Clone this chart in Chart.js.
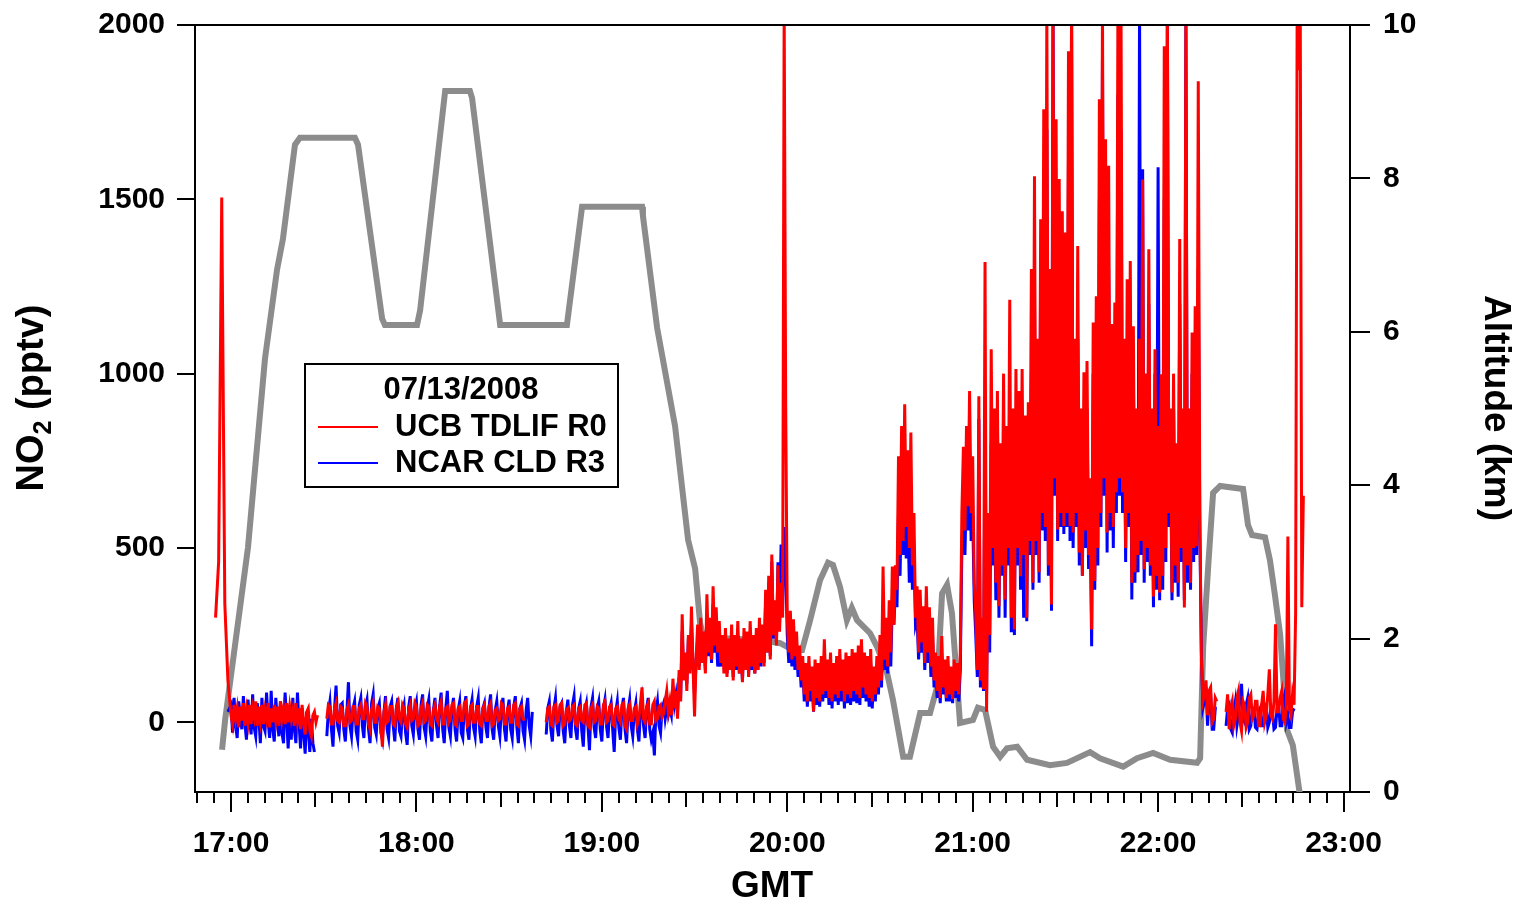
<!DOCTYPE html>
<html><head><meta charset="utf-8">
<script src="https://cdn.jsdelivr.net/npm/chart.js@4.4.1/dist/chart.umd.min.js"></script>
<style>html,body{margin:0;padding:0;background:#fff;}canvas{display:block;}</style>
</head><body>
<canvas id="c" width="1517" height="904"></canvas>
<script>
const FONT = '"Liberation Sans", Arial, Helvetica, sans-serif';

// NO2 (pptv). Segment A: 1-min samples from 16:55 (minute-of-day 1015) to 16:59
const SEG_A_START = 1015, SEG_A_STEP = 1;
// Segment B: 30-s samples from 17:00 to 22:48:30
const SEG_B_START = 1020, SEG_B_STEP = 0.5;

const ucbA = [300, 460, 1505, 340, 120];
const ucbB = [
 20, -5, 50, 10, 40, -15, 45, 5, 55, -10, 35, 0, 50, -5, 40, 15, 60, -10, 45, 5,
 50, -5, 35, 10, 55, -15, 40, 0, 50, 5, 45, -10, 60, 10, 40, -5, 55, 0, 45, 10,
 35, -10, 55, 5, 40, -20, 50, 0, -35, 30, 40, -25, -40, 20, 30, 0, 20, null, null, null,
 null, null, 10, 50, 45, -5, -5, 40, 55, 5, 0, 45, 40, -10, -10, 35, 50, 0, 5, 45,
 45, -5, -5, 40, 50, 10, 10, 55, 45, -5, -20, 35, 55, 0, 0, 45, 40, -10, -70, 30,
 50, 0, 5, 45, 45, -5, -10, 40, 55, 10, 0, 50, 40, -5, -15, 35, 50, 5, 10, 55,
 45, -10, -5, 40, 55, 0, 5, 50, 45, -5, -10, 35, 50, 10, 0, 45, 60, -5, -5, 40,
 45, 0, 10, 50, 55, -5, -10, 40, 45, 5, 5, 55, 60, -10, -5, 45, 50, 0, 0, 45,
 45, -5, -10, 40, 50, 5, 5, 45, 55, -10, -5, 35, 40, 5, 10, 55, 50, -5, -5, 40,
 45, 0, 0, 50, 55, -5, -10, 40, 45, 10, 5, null, null, null, null, null, null, null, null, null,
 null, null, null, null, 0, 40, 45, -5, -10, 45, 50, 0, 5, 50, 55, -10, -5, 35, 40, 5,
 10, 45, 50, -5, -10, 40, 45, 5, 0, 50, 55, -10, -15, 40, 50, 0, 5, 45, 40, -5,
 -5, 50, 60, 0, 5, 45, 50, -5, -10, 40, 45, 10, 0, 50, 55, -10, -20, 40, 50, 5,
 5, 40, 45, -5, 10, 55, 100, 10, 0, 45, 55, -5, -5, 50, 60, 5, 10, 45, 50, 15,
 25, 60, 90, 30,
 60, 20, 125, 40, 90, 10, 150, 60, 310, 120, 200, 90, 250, 140, 332, 160, 17, 180, 280, 150,
 300, 170, 260, 140, 367, 200, 300, 180, 390, 220, 330, 200, 290, 170, 250, 140, 270, 130, 240, 150,
 280, 120, 250, 160, 290, 140, 240, 115, 270, 150, 260, 130, 290, 160, 250, 140, 270, 150, 300, 170,
 280, 160, 380, 200, 420, 180, 481, 250, 350, 220, 450, 260, 400, 300, 2050, 900, 300, 200, 320, 180,
 295, 190, 260, 150, 220, 120, 190, 80, 170, 60, 190, 90, 160, 31, 180, 70, 170, 60, 190, 80,
 238, 90, 180, 70, 200, 60, 170, 80, 190, 70, 210, 90, 180, 60, 200, 80, 190, 70, 210, 90,
 200, 80, 220, 70, 238, 100, 200, 80, 190, 70, 210, 60, 160, 80, 190, 100, 250, 120, 447, 180,
 300, 160, 350, 200,
 447, 280, 450, 380, 763, 480, 850, 520, 912, 560, 780, 500, 831, 450, 600, 300, 390, 200, 380, 230,
 333, 170, 390, 200, 330, 160, 300, 120, 200, 90, 190, 70, 247, 100, 180, 70, 190, 80, 160, 66,
 180, 90, 170, 80, 200, 600, 790, 550, 850, 620, 950, 600, 763, 400, 315, 150, 935, 120, 300, 95,
 1320, 30, 600, 250, 1070, 500, 900, 400, 950, 333, 800, 450, 1000, 352, 850, 500, 1212, 300, 900, 266,
 1013, 500, 950, 419, 1013, 480, 880, 300, 918, 520, 1300, 400, 1566, 520, 1100, 430, 1443, 600, 1758, 560,
 2050, 450, 1300, 338, 2050, 700, 1730, 553, 1558, 600, 1466, 563, 1405, 600, 1925, 563, 2050, 544, 1100, 600,
 1366, 487, 900, 420, 1004, 550, 1036, 480, 700, 266, 1147, 405, 1222, 500, 1787, 600, 2050, 700, 1672, 544,
 1596, 600, 1142, 560, 1204, 660, 2050, 700, 2050, 660, 1100, 500, 1271, 600, 1323, 400, 1136, 430, 900, 480,
 1100, 520, 1557, 439, 1000, 500, 1357, 450, 900, 361, 1070, 420, 850, 372, 998, 420, 1939, 500, 2050, 600,
 900, 372, 1000, 450, 800, 400, 1386, 500, 900, 329, 2050, 450, 900, 400, 1118, 500, 1193, 505, 1839, 600,
 180, 60, 80, 120, 20, 90, 100, 0, 10, 70, 60, null, null, null, null, null,
 30, 80, -20, 40, 60, -10, 10, 70, 90, 0, -25, 60, 50, -15, 0, 70, 80, 10, 20, 60,
 60, -10, -10, 50, 90, 0, 20, 80, 152, 20, 10, 60, 281, 30, 30, 70, 90, 10, 0, 50,
 533, 40, 20, 80, 50, 309, 2050, 1870, 2050, 330, 650, null, null, null
];

const ncarA = [null, null, null, null, 30];
const ncarB = [
 50, -30, 70, -10, -45, 60, 20, -20, 75, -5, -50, 65, 10, -35, 80, -15, -40, 55, 15, -60,
 70, -10, -25, 85, 5, -45, 90, -20, -55, 70, 0, -40, 60, -30, -60, 85, 10, -75, 40, -50,
 70, -20, -60, 85, 0, -75, 40, -30, -90, 30, -20, -85, 10, -60, -85, null, null, null, null, null,
 null, null, -40, 30, 60, -20, -70, 40, 105, -10, -30, 50, 55, -20, -55, 30, 115, -10, -40, 40,
 60, -25, -50, 50, 70, -10, -45, 45, 65, -20, -60, 55, 80, -15, -35, 40, 55, -30, -50, 30,
 75, -20, -45, 45, 60, -10, -55, 40, 70, -25, -40, 30, 50, -30, -65, 45, 75, -10, -35, 40,
 60, -20, -50, 50, 80, -15, -40, 40, 65, -25, -55, 35, 70, -10, -45, 45, 85, -20, -60, 40,
 90, -15, -40, 40, 70, -20, -55, 35, 60, -30, -45, 45, 75, -20, -50, 40, 65, -15, -40, 45,
 70, -25, -60, 40, 55, -15, -45, 45, 80, -20, -50, 35, 60, -10, -40, 40, 70, -20, -55, 35,
 65, -20, -45, 45, 75, -15, -60, 40, 55, -25, -50, 35, 70, -10, -40, 30, null, null, null, null,
 null, null, null, null, -35, 40, 60, -20, -55, 40, 70, -10, -40, 45, 55, -25, -60, 30, 65, -10,
 -45, 50, 75, -20, -50, 40, 60, -25, -70, 35, 55, -10, -80, 45, 70, -15, -45, 40, 60, -20,
 -55, 40, 65, -10, -45, 35, 55, -20, -85, 30, 60, -15, -50, 40, 70, -20, -60, 35, 65, -10,
 -40, 30, 55, -20, -55, 35, 65, -10, -45, 40, 70, -20, -50, -30, -95, 30, 60, -10, -30, 40,
 55, 10, 40, 20,
 40, 20, 100, 50, 80, 30, 130, 70, 260, 130, 180, 110, 240, 150, 280, 170, 80, 170, 240, 160,
 250, 170, 230, 150, 300, 190, 260, 170, 340, 200, 260, 160, 200, 160, 220, 160, 240, 140, 220, 150,
 240, 130, 230, 150, 250, 140, 220, 120, 240, 150, 230, 140, 250, 150, 230, 140, 240, 150, 270, 160,
 260, 170, 350, 200, 400, 190, 460, 240, 340, 230, 459, 280, 510, 320, 560, 450, 250, 170, 260, 160,
 250, 150, 220, 130, 180, 100, 160, 60, 150, 45, 160, 60, 140, 30, 150, 50, 140, 45, 160, 60,
 190, 70, 150, 50, 170, 40, 150, 60, 160, 50, 180, 60, 150, 40, 170, 55, 160, 50, 180, 60,
 170, 55, 190, 50, 200, 70, 170, 60, 160, 45, 170, 40, 140, 60, 160, 80, 200, 100, 300, 150,
 250, 140, 280, 160,
 350, 280, 380, 330, 600, 420, 660, 480, 700, 470, 600, 400, 660, 380, 480, 280, 300, 180, 300, 200,
 280, 150, 300, 170, 260, 130, 250, 100, 160, 70, 150, 55, 180, 80, 140, 60, 150, 60, 130, 55,
 140, 70, 130, 60, 150, 500, 620, 480, 700, 550, 780, 520, 600, 350, 250, 130, 870, 100, 250, 90,
 900, 80, 600, 200, 800, 450, 700, 350, 870, 300, 700, 420, 800, 300, 700, 450, 900, 258, 750, 250,
 850, 450, 800, 380, 800, 300, 700, 290, 800, 480, 1000, 380, 1200, 480, 900, 400, 1300, 550, 1400, 520,
 1700, 420, 1000, 320, 2050, 650, 1300, 520, 1300, 560, 1200, 540, 1200, 560, 1600, 520, 2050, 500, 900, 560,
 1100, 450, 800, 420, 900, 500, 900, 440, 600, 218, 1000, 380, 1000, 450, 1500, 560, 1900, 650, 1400, 487,
 1300, 550, 1000, 500, 1000, 600, 1800, 650, 1700, 600, 1000, 460, 1100, 560, 1100, 352, 1000, 400, 800, 430,
 2050, 480, 1586, 400, 900, 460, 1200, 420, 800, 330, 1000, 380, 1592, 350, 900, 380, 1500, 460, 2050, 560,
 800, 350, 900, 400, 700, 360, 1200, 460, 800, 350, 2050, 400, 800, 380, 1000, 460, 1000, 480, 1300, 560,
 200, 40, 60, 100, -10, 60, 80, -20, -20, 40, 40, null, null, null, null, null,
 -10, 40, 50, -20, -30, 30, 60, -10, 20, 70, 110, 10, 0, 50, 70, -20, -10, 40, 40, -15,
 -20, 30, 40, -10, -10, 40, 50, -15, 0, 40, 30, -20, -15, 40, 50, -10, -10, 60, 80, 0,
 20, -15, -15, 30, 40, null, null, null, null, null, null, null, null, null
];

// Aircraft altitude (km) at minute-of-day
const altTimeMin = [1017.1, 1018.1, 1025.5, 1031.0, 1034.9, 1036.8, 1040.7, 1042.3, 1060.1, 1061.1,
 1068.9, 1069.8, 1080.2, 1081.2, 1089.3, 1097.3, 1098.0, 1107.1, 1128.7, 1133.6,
 1153.0, 1153.3, 1157.9, 1163.7, 1167.9, 1170.2, 1171.8, 1172.8, 1191.2, 1197.7,
 1201.9, 1204.8, 1207.4, 1210.6, 1213.2, 1214.8, 1217.1, 1219.3, 1220.9, 1222.6,
 1226.8, 1229.1, 1232.3, 1234.2, 1237.5, 1239.7, 1243.0, 1246.2, 1248.5, 1250.1,
 1251.7, 1253.3, 1255.9, 1260.1, 1261.7, 1264.0, 1266.6, 1268.9, 1271.1, 1274.4,
 1277.6, 1285.0, 1290.5, 1298.0, 1301.2, 1308.7, 1313.2, 1318.4, 1323.9, 1332.6,
 1333.6, 1334.6, 1336.2, 1337.8, 1340.1, 1347.5, 1349.1, 1350.4, 1354.6, 1356.2,
 1357.8, 1359.5, 1361.7, 1363.6, 1365.9];
const altKm = [0.55, 0.94, 3.19, 5.65, 6.81, 7.21, 8.44, 8.53, 8.53, 8.44,
 6.17, 6.09, 6.09, 6.28, 9.14, 9.14, 9.05, 6.09, 6.09, 7.63,
 7.63, 7.51, 6.05, 4.77, 3.29, 2.91, 2.20, 2.02, 1.98, 1.94,
 1.85, 1.85, 2.24, 2.76, 2.99, 2.96, 2.67, 2.24, 2.40, 2.24,
 2.07, 1.89, 1.55, 1.20, 0.46, 0.46, 1.03, 1.03, 1.37, 2.59,
 2.70, 2.33, 0.90, 0.94, 1.10, 1.07, 0.59, 0.46, 0.57, 0.59,
 0.42, 0.35, 0.38, 0.52, 0.44, 0.33, 0.44, 0.51, 0.42, 0.38,
 0.44, 1.90, 2.93, 3.90, 3.99, 3.95, 3.48, 3.35, 3.32, 3.02,
 2.57, 2.05, 0.81, 0.61, -0.04];

const hourTicks = [1020, 1080, 1140, 1200, 1260, 1320, 1380];
const no2Ticks = [0, 500, 1000, 1500, 2000];
const altTicks = [0, 2, 4, 6, 8, 10];
const xRange = [1008.35, 1382.1];
const no2Range = [-200, 2000];
const altRange = [0, 10];
const legendTitle = '07/13/2008';
const seriesNames = ['UCB TDLIF R0', 'NCAR CLD R3'];

const seg = (start, step, arr) => arr.map((v, i) => ({x: start + i * step, y: v}));
const series = (a, b) => [...seg(SEG_A_START, SEG_A_STEP, a), ...seg(SEG_B_START, SEG_B_STEP, b)];
const fmtHM = m => { const h = Math.floor(m / 60), mm = Math.round(m - h * 60); return h + ':' + String(mm).padStart(2, '0'); };
const noPad = s => { s.paddingTop = 0; s.paddingBottom = 0; s.paddingLeft = 0; s.paddingRight = 0; };

const framePlugin = {
  id: 'frame',
  afterDraw(chart) {
    const ctx = chart.ctx, a = chart.chartArea, xs = chart.scales.x;
    ctx.save();
    ctx.strokeStyle = '#000'; ctx.lineWidth = 2;
    ctx.beginPath(); ctx.moveTo(a.left - 1, a.top); ctx.lineTo(a.right + 1, a.top); ctx.stroke();
    // minor ticks (11 intervals per hour, 5th emphasised)
    const step = 60 / 11;
    for (let k = -2; ; k++) {
      const m = 1020 + k * step;
      if (m > xs.max) break;
      if (m < xs.min) continue;
      const r = ((k % 11) + 11) % 11;
      if (r === 0) continue;
      const len = (r === 5) ? 15 : 11;
      const px = Math.round(xs.getPixelForValue(m));
      ctx.beginPath(); ctx.moveTo(px, a.bottom); ctx.lineTo(px, a.bottom + len); ctx.stroke();
    }
    // axis titles
    ctx.fillStyle = '#000';
    ctx.textBaseline = 'middle';
    ctx.font = 'bold 37px ' + FONT; ctx.textAlign = 'center';
    ctx.fillText('GMT', 772, 887);
    ctx.save();
    ctx.translate(33, 398); ctx.rotate(-Math.PI / 2);
    const big = 'bold 38px ' + FONT, small = 'bold 25px ' + FONT;
    ctx.font = big; const w1 = ctx.measureText('NO').width, w3 = ctx.measureText(' (pptv)').width;
    ctx.font = small; const w2 = ctx.measureText('2').width;
    let sx = -(w1 + w2 + w3) / 2;
    ctx.textAlign = 'left';
    ctx.font = big; ctx.fillText('NO', sx, 0); sx += w1;
    ctx.font = small; ctx.fillText('2', sx, 11); sx += w2;
    ctx.font = big; ctx.fillText(' (pptv)', sx, 0);
    ctx.restore();
    ctx.save();
    ctx.translate(1495, 408); ctx.rotate(Math.PI / 2);
    ctx.font = 'bold 37px ' + FONT; ctx.textAlign = 'center';
    ctx.fillText('Altitude (km)', 0, 0);
    ctx.restore();
    // legend
    ctx.fillStyle = '#fff'; ctx.fillRect(305, 364, 313, 123);
    ctx.strokeStyle = '#000'; ctx.lineWidth = 2; ctx.strokeRect(305, 364, 313, 123);
    ctx.fillStyle = '#000'; ctx.font = 'bold 31px ' + FONT;
    ctx.textAlign = 'center'; ctx.fillText(legendTitle, 461, 390);
    ctx.textAlign = 'left';
    const cols = ['#ff0000', '#0000ff'], ys = [427, 463];
    for (let i = 0; i < 2; i++) {
      ctx.strokeStyle = cols[i]; ctx.lineWidth = 2;
      ctx.beginPath(); ctx.moveTo(318, ys[i]); ctx.lineTo(378, ys[i]); ctx.stroke();
      ctx.fillText(seriesNames[i], 395, ys[i]);
    }
    ctx.restore();
  }
};

const tickFont = {family: FONT, size: 30, weight: 'bold'};
new Chart(document.getElementById('c'), {
  type: 'line',
  data: {
    datasets: [
      {label: seriesNames[0], data: series(ucbA, ucbB), borderColor: '#ff0000', borderWidth: 3, yAxisID: 'y'},
      {label: seriesNames[1], data: series(ncarA, ncarB), borderColor: '#0000ff', borderWidth: 3, yAxisID: 'y'},
      {label: 'Altitude', data: altTimeMin.map((t, i) => ({x: t, y: altKm[i]})), borderColor: '#8c8c8c', borderWidth: 6, yAxisID: 'y2'}
    ]
  },
  options: {
    responsive: false, devicePixelRatio: 1, animation: false,
    layout: {padding: {top: 25, left: 0, right: 0, bottom: 0}},
    elements: {point: {radius: 0}, line: {tension: 0, borderCapStyle: 'butt', borderJoinStyle: 'miter'}},
    spanGaps: false,
    plugins: {legend: {display: false}, tooltip: {enabled: false}},
    scales: {
      x: {
        type: 'linear', position: 'bottom', min: xRange[0], max: xRange[1],
        afterBuildTicks: s => { s.ticks = hourTicks.map(v => ({value: v})); },
        afterFit: s => { s.height = 112; noPad(s); },
        ticks: {callback: v => fmtHM(v), font: tickFont, color: '#000', padding: 14, maxRotation: 0, autoSkip: false},
        grid: {display: true, drawOnChartArea: false, drawTicks: true, tickLength: 20, color: '#000', lineWidth: 2},
        border: {display: true, color: '#000', width: 2}
      },
      y: {
        position: 'left', min: no2Range[0], max: no2Range[1],
        afterBuildTicks: s => { s.ticks = no2Ticks.map(v => ({value: v})); },
        afterFit: s => { s.width = 195; noPad(s); },
        ticks: {callback: v => String(v), font: tickFont, color: '#000', padding: 12},
        grid: {display: true, drawOnChartArea: false, drawTicks: true, tickLength: 18, color: '#000', lineWidth: 2},
        border: {display: true, color: '#000', width: 2}
      },
      y2: {
        position: 'right', min: altRange[0], max: altRange[1],
        afterBuildTicks: s => { s.ticks = altTicks.map(v => ({value: v})); },
        afterFit: s => { s.width = 167; noPad(s); },
        ticks: {callback: v => String(v), font: tickFont, color: '#000', padding: 13},
        grid: {display: true, drawOnChartArea: false, drawTicks: true, tickLength: 20, color: '#000', lineWidth: 2},
        border: {display: true, color: '#000', width: 2}
      }
    }
  },
  plugins: [framePlugin]
});
</script>
</body></html>
